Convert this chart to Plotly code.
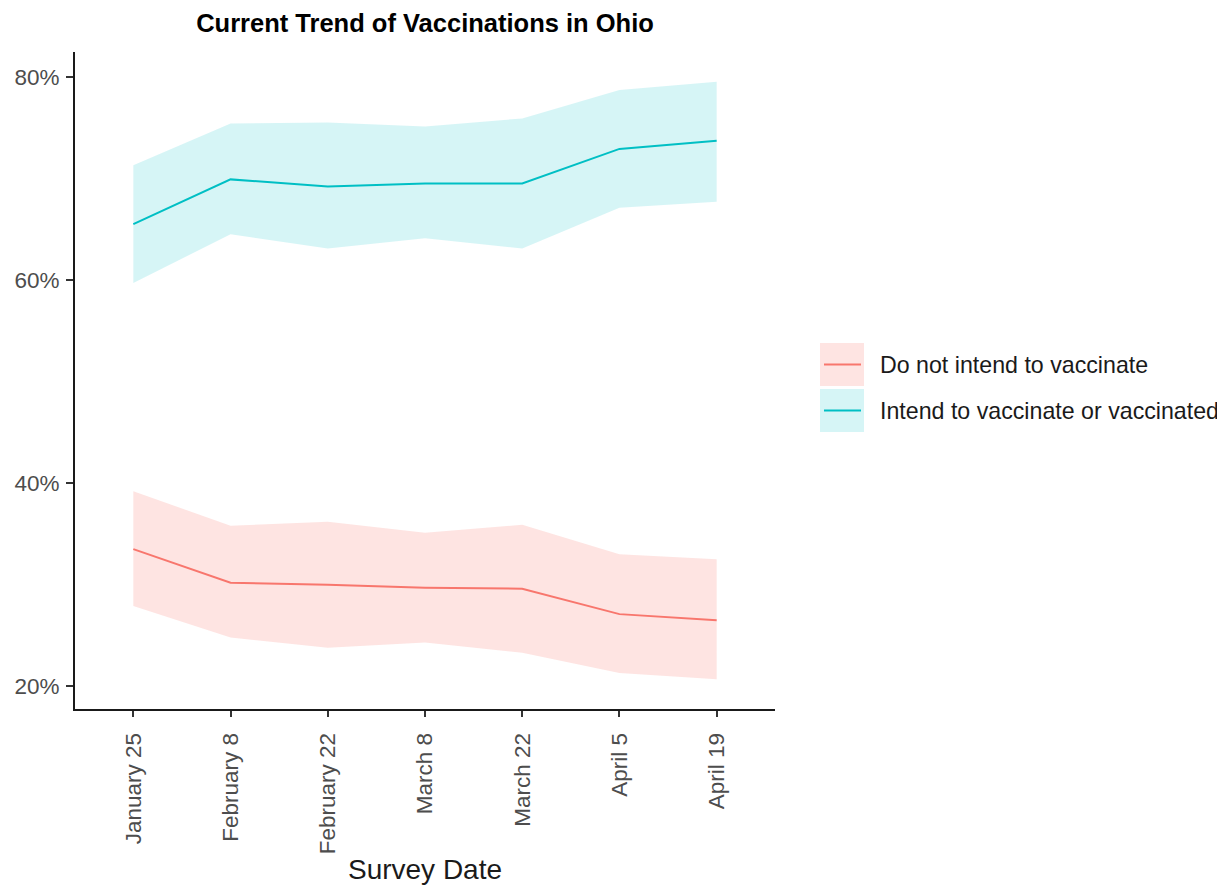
import plotly.graph_objects as go

dates = ["January 25", "February 8", "February 22", "March 8", "March 22", "April 5", "April 19"]

intend = [65.5, 69.9, 69.2, 69.5, 69.5, 72.9, 73.7]
intend_hi = [71.3, 75.4, 75.5, 75.1, 75.9, 78.7, 79.5]
intend_lo = [59.7, 64.5, 63.1, 64.1, 63.1, 67.1, 67.7]

notint = [33.5, 30.2, 30.0, 29.7, 29.6, 27.1, 26.5]
notint_hi = [39.2, 35.8, 36.2, 35.1, 35.9, 33.0, 32.5]
notint_lo = [27.9, 24.8, 23.8, 24.3, 23.3, 21.3, 20.7]

y_ticks = [20, 40, 60, 80]
y_ticklabels = ["20%", "40%", "60%", "80%"]

series = [
    ("Do not intend to vaccinate", notint, notint_lo, notint_hi, "#F8766D", "rgba(248,118,109,0.2)"),
    ("Intend to vaccinate or vaccinated", intend, intend_lo, intend_hi, "#00BFC4", "rgba(0,191,196,0.16)"),
]

xs = list(range(len(dates)))
fig = go.Figure()
for name, y, lo, hi, col, fillc in series:
    fig.add_trace(go.Scatter(x=xs + xs[::-1], y=hi + lo[::-1], fill="toself", fillcolor=fillc,
                             line=dict(width=0), mode="lines", showlegend=False, hoverinfo="skip"))
for name, y, lo, hi, col, fillc in series:
    fig.add_trace(go.Scatter(x=xs, y=y, mode="lines", line=dict(color=col, width=2), name=name, showlegend=False))

# page offset (body margin) and plot area in screen pixels
OFF = 8
L, R, T, B = 75, 775, 52, 709
W, H = 1225 - OFF, 885 - OFF
def px(xp):
    return (xp - L) / (R - L)
def py(yp):
    return (B - yp) / (B - T)

shapes = []
annotations = []
for i, (name, y, lo, hi, col, fillc) in enumerate(series):
    top = 343 + i * 46
    shapes.append(dict(type="rect", xref="paper", yref="paper", x0=px(820), x1=px(864), y0=py(top + 43), y1=py(top),
                       fillcolor=fillc, line=dict(width=0), layer="below"))
    ym = top + 21.5
    shapes.append(dict(type="line", xref="paper", yref="paper", x0=px(824), x1=px(861), y0=py(ym), y1=py(ym),
                       line=dict(color=col, width=2)))
    annotations.append(dict(xref="paper", yref="paper", x=px(878), y=py(ym), text=name, showarrow=False,
                            xanchor="left", yanchor="middle", font=dict(size=23.2, color="#1A1A1A")))

fig.update_layout(
    width=W, height=H,
    margin=dict(l=L - OFF, r=W - (R - OFF), t=T - OFF, b=H - (B - OFF)),
    paper_bgcolor="white", plot_bgcolor="white",
    font=dict(family="Liberation Sans, Arial, sans-serif"),
    title=dict(text="<b>Current Trend of Vaccinations in Ohio</b>", x=px(425), xref="paper", xanchor="center",
               y=1 - 6 / H, yref="container", yanchor="top", pad=dict(t=0, b=0),
               font=dict(size=25.5, color="black")),
    shapes=shapes, annotations=annotations,
    showlegend=False,
)
fig.update_xaxes(range=[-0.6, 6.6], tickvals=xs, ticktext=dates, tickangle=-90, automargin=False,
                 showgrid=False, zeroline=False, showline=True, linecolor="#1A1A1A", linewidth=1.8,
                 ticks="outside", ticklen=6, tickcolor="#333333", tickwidth=1.5, ticklabelstandoff=7,
                 tickfont=dict(size=22.5, color="#4D4D4D"),
                 title=dict(text="Survey Date", font=dict(size=28, color="#1A1A1A"), standoff=10))
fig.update_yaxes(range=[17.76, 82.44], tickvals=y_ticks, ticktext=y_ticklabels, automargin=False,
                 showgrid=False, zeroline=False, showline=True, linecolor="#1A1A1A", linewidth=1.8,
                 ticks="outside", ticklen=7, tickcolor="#333333", tickwidth=1.5, ticklabelstandoff=2,
                 tickfont=dict(size=22.5, color="#4D4D4D"))

fig.write_html("out.html")
